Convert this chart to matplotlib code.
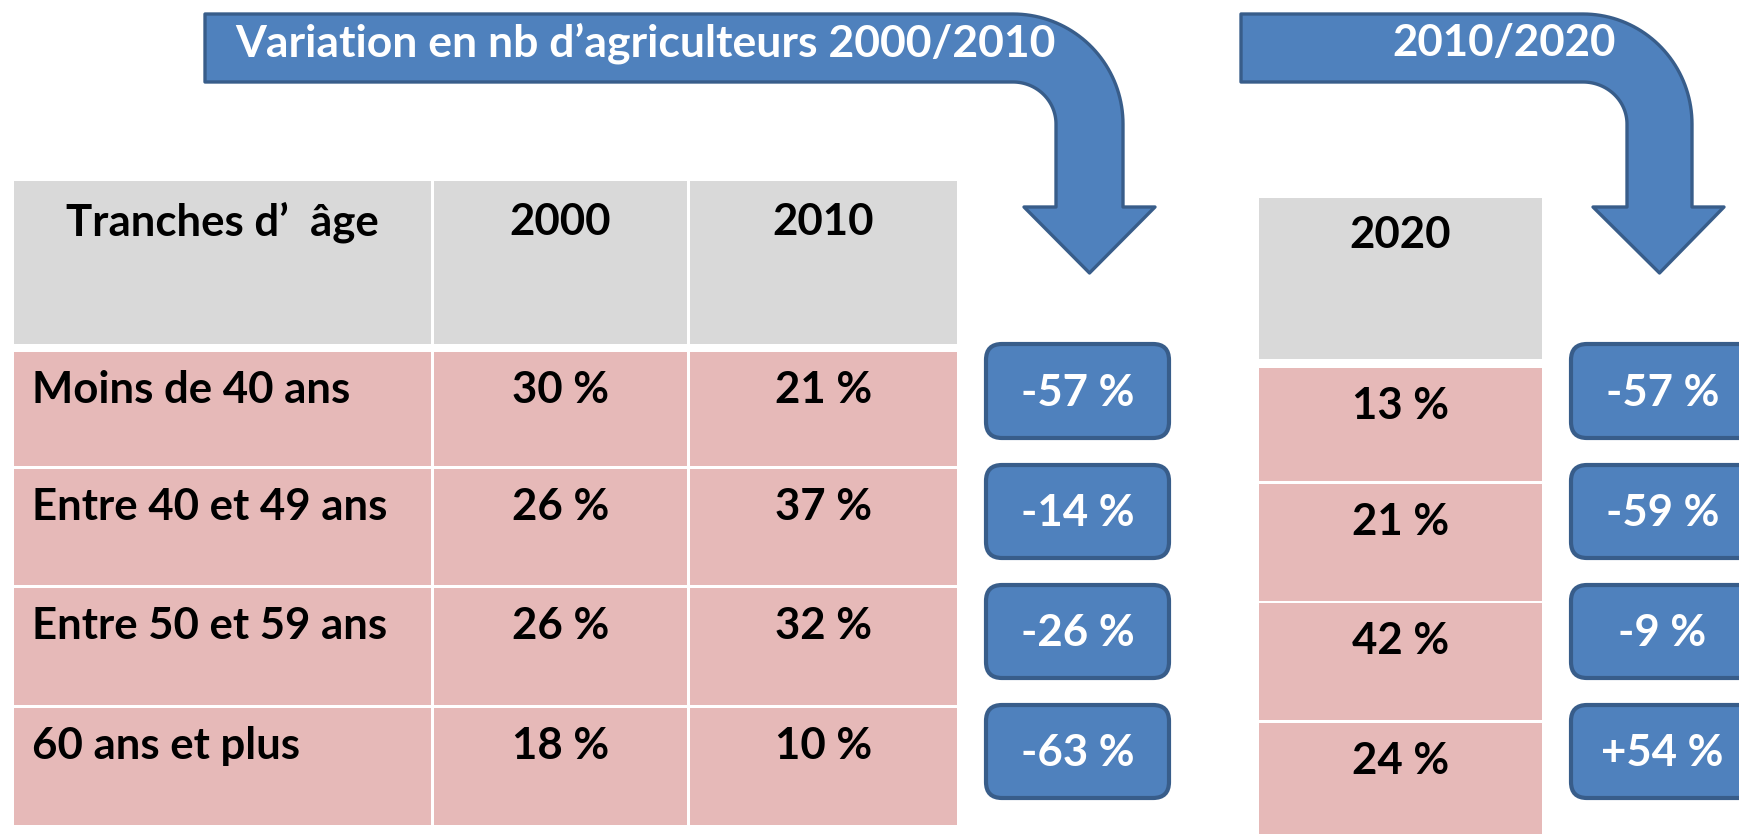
import numpy as np
import matplotlib
matplotlib.use("Agg")
import matplotlib.pyplot as plt
from matplotlib.patches import Rectangle, FancyBboxPatch, PathPatch
from matplotlib.path import Path

# ---------------- data ----------------
age_groups = ["Moins de 40 ans", "Entre 40 et 49 ans", "Entre 50 et 59 ans", "60 ans et plus"]
share_2000 = [30, 26, 26, 18]
share_2010 = [21, 37, 32, 10]
share_2020 = [13, 21, 42, 24]
var_2000_2010 = [-57, -14, -26, -63]
var_2010_2020 = [-57, -59, -9, 54]
header_labels = ["Tranches d\u2019  \u00e2ge", "2000", "2010"]
header_2020 = "2020"
title_1 = "Variation en nb d\u2019agriculteurs 2000/2010"
title_2 = "2010/2020"

# ---------------- style ----------------
plt.rcParams['font.family'] = ['Lato', 'DejaVu Sans']
BLUE = '#4F81BD'
BLUE_EDGE = '#385D8A'
GRAY = '#D9D9D9'
PINK = '#E6B9B8'
FS = 31.5
FS_TITLE = 32

W, H = 1740, 834
fig = plt.figure(figsize=(W / 100, H / 100), dpi=100)
ax = fig.add_axes([0, 0, 1, 1])
ax.set_xlim(0, W)
ax.set_ylim(H, 0)
ax.axis('off')


def bent_arrow(x0, top, bottom, cx, cy, outer_x, inner_x, head_top, head_l, head_r, tip_y):
    pts = [(x0, top)]
    t = np.linspace(-np.pi / 2, 0, 40)
    rx, ry = outer_x - cx, cy - top
    pts += list(zip(cx + rx * np.cos(t), cy + ry * np.sin(t)))
    tip_x = (outer_x + inner_x) / 2
    pts += [(outer_x, head_top), (head_r, head_top), (tip_x, tip_y),
            (head_l, head_top), (inner_x, head_top), (inner_x, cy)]
    t2 = np.linspace(0, -np.pi / 2, 40)
    rx2, ry2 = inner_x - cx, cy - bottom
    pts += list(zip(cx + rx2 * np.cos(t2), cy + ry2 * np.sin(t2)))
    pts += [(x0, bottom), (x0, top)]
    codes = [Path.MOVETO] + [Path.LINETO] * (len(pts) - 2) + [Path.CLOSEPOLY]
    return PathPatch(Path(pts, codes), facecolor=BLUE, edgecolor=BLUE_EDGE,
                     lw=2.4, joinstyle='round', zorder=2)


# arrows
ax.add_patch(bent_arrow(205, 14, 82, 1013, 124, 1123, 1056, 207, 1024, 1155, 273))
ax.add_patch(bent_arrow(1241, 14, 82, 1583, 124, 1692, 1627, 207, 1593, 1724, 273))
ax.text(645, 56, title_1, color='white', fontsize=FS_TITLE, fontweight='bold',
        ha='center', va='baseline', zorder=3)
ax.text(1504, 56, title_2, color='white', fontsize=FS, fontweight='bold',
        ha='center', va='baseline', zorder=3)

# main table
col_edges = [(14, 431), (434, 687), (690, 957)]
header_y = (181, 344)
row_edges = [(352, 466), (469, 585), (588, 705), (708, 825)]

for (x0, x1), lab in zip(col_edges, header_labels):
    ax.add_patch(Rectangle((x0, header_y[0]), x1 - x0, header_y[1] - header_y[0],
                           facecolor=GRAY, edgecolor='none', zorder=1))
    ax.text((x0 + x1) / 2, header_y[0] + 54, lab, fontsize=FS, fontweight='bold',
            ha='center', va='baseline', color='black', zorder=3)

for i, (y0, y1) in enumerate(row_edges):
    for (x0, x1) in col_edges:
        ax.add_patch(Rectangle((x0, y0), x1 - x0, y1 - y0,
                               facecolor=PINK, edgecolor='none', zorder=1))
    base = y0 + 51
    ax.text(32, base, age_groups[i], fontsize=FS, fontweight='bold',
            ha='left', va='baseline', color='black', zorder=3)
    ax.text(sum(col_edges[1]) / 2, base, f"{share_2000[i]} %", fontsize=FS,
            fontweight='bold', ha='center', va='baseline', color='black', zorder=3)
    ax.text(sum(col_edges[2]) / 2, base, f"{share_2010[i]} %", fontsize=FS,
            fontweight='bold', ha='center', va='baseline', color='black', zorder=3)

# 2020 table
col20 = (1259, 1542)
header20 = (198, 359)
rows20 = [(368, 481), (484, 601), (603, 720), (723, 840)]
ax.add_patch(Rectangle((col20[0], header20[0]), col20[1] - col20[0], header20[1] - header20[0],
                       facecolor=GRAY, edgecolor='none', zorder=1))
ax.text(sum(col20) / 2, header20[0] + 50, header_2020, fontsize=FS, fontweight='bold',
        ha='center', va='baseline', color='black', zorder=3)
for i, (y0, y1) in enumerate(rows20):
    ax.add_patch(Rectangle((col20[0], y0), col20[1] - col20[0], y1 - y0,
                           facecolor=PINK, edgecolor='none', zorder=1))
    ax.text(sum(col20) / 2, y0 + 51, f"{share_2020[i]} %", fontsize=FS, fontweight='bold',
            ha='center', va='baseline', color='black', zorder=3)

# variation boxes
box_rows = [(344, 438), (465, 558), (585, 678), (705, 798)]
box_cols = [(986, 1169), (1571, 1754)]
for (bx0, bx1), values in zip(box_cols, [var_2000_2010, var_2010_2020]):
    for (y0, y1), v in zip(box_rows, values):
        ax.add_patch(FancyBboxPatch((bx0, y0), bx1 - bx0, y1 - y0,
                                    boxstyle="round,pad=0,rounding_size=16",
                                    facecolor=BLUE, edgecolor=BLUE_EDGE, lw=3.0, zorder=2))
        ax.text((bx0 + bx1) / 2, (y0 + y1) / 2 + 15, f"{v:+d} %", color='white',
                fontsize=FS, fontweight='bold', ha='center', va='baseline', zorder=3)

fig.savefig("out.png", dpi=100, facecolor='white')
